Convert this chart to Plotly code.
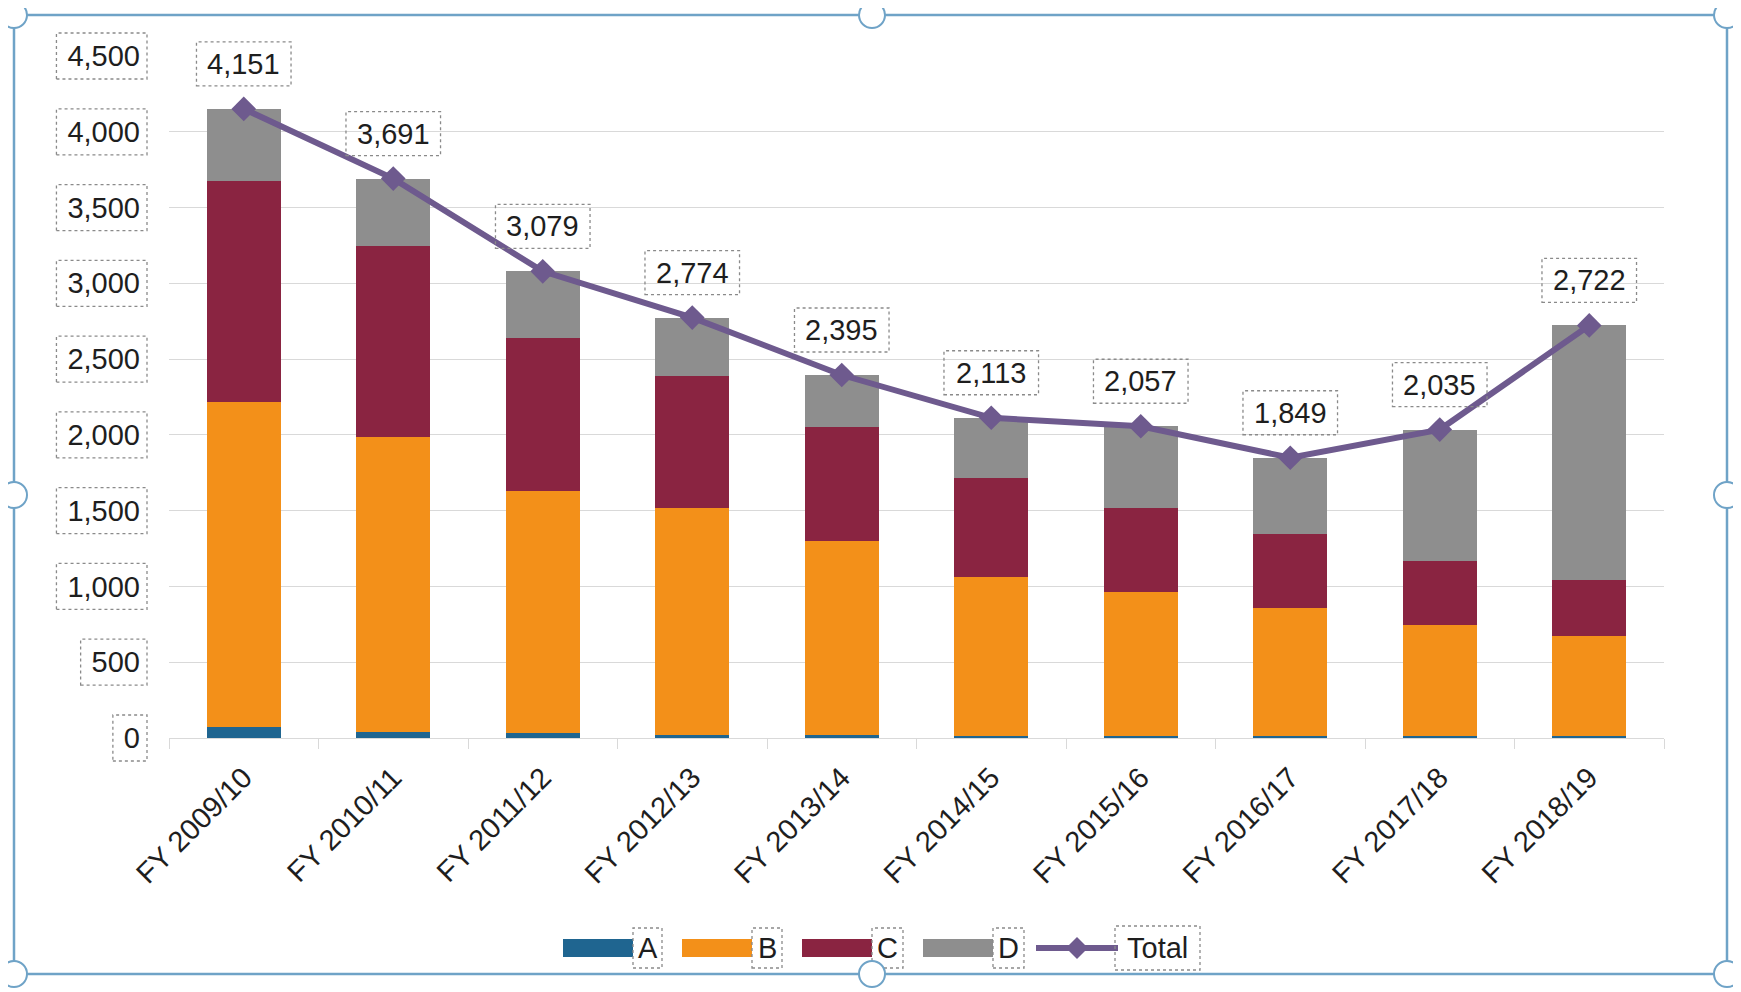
import plotly.graph_objects as go

# ---------------- data ----------------
categories = ["FY 2009/10", "FY 2010/11", "FY 2011/12", "FY 2012/13", "FY 2013/14",
              "FY 2014/15", "FY 2015/16", "FY 2016/17", "FY 2017/18", "FY 2018/19"]
series_a = [70, 40, 35, 20, 18, 15, 15, 12, 12, 10]
series_b = [2150, 1943, 1592, 1496, 1283, 1047, 946, 845, 731, 660]
series_c = [1454, 1265, 1015, 873, 754, 652, 555, 490, 422, 374]
series_d = [477, 443, 437, 385, 340, 399, 541, 502, 870, 1678]
totals = [4151, 3691, 3079, 2774, 2395, 2113, 2057, 1849, 2035, 2722]
y_ticks = [0, 500, 1000, 1500, 2000, 2500, 3000, 3500, 4000, 4500]
legend_names = ["A", "B", "C", "D", "Total"]

# ---------------- styles ----------------
COL_A, COL_B, COL_C, COL_D = "#1F6590", "#F39019", "#8A2441", "#8E8E8E"
COL_TOTAL = "#6E5A8E"
GRID = "#D9D9D9"
TXT = "#1E1E1E"
FRAME = "#6FA3C7"
FONT = "Liberation Sans, Arial, sans-serif"
FS = 29

OFF = 8  # page body margin
W, H = 1741 - OFF, 992 - OFF
# targets in page pixels
L, R, T, B = 169, 1664, 56, 738
YMAX = 4500
N = len(categories)


def fx(px):
    return (px - L) / (R - L)


def fy(py):
    return (B - py) / (B - T)


def val_py(v):
    return B - v / YMAX * (B - T)


def cat_px(i):
    return L + (i + 0.5) * (R - L) / N


CW = {**{d: 0.556 for d in "0123456789"}, ",": 0.278, "T": 0.611, "o": 0.556,
      "t": 0.278, "a": 0.556, "l": 0.222, "A": 0.667, "B": 0.667, "C": 0.722, "D": 0.722}


def text_w(s, fs=FS):
    return sum(CW.get(ch, 0.556) for ch in s) * fs


def box(x0, y0, x1, y1, color="#8A8A8A"):
    return dict(type="rect", xref="paper", yref="paper",
                x0=fx(x0), x1=fx(x1), y0=fy(y1), y1=fy(y0),
                line=dict(color=color, width=1.3, dash="dot"), fillcolor="rgba(0,0,0,0)")


fig = go.Figure()
for name, vals, col in [("A", series_a, COL_A), ("B", series_b, COL_B),
                        ("C", series_c, COL_C), ("D", series_d, COL_D)]:
    fig.add_trace(go.Bar(x=categories, y=vals, name=name, marker=dict(color=col, line=dict(width=0)),
                         showlegend=False))

fig.add_trace(go.Scatter(x=categories, y=totals, name="Total", mode="lines+markers",
                         line=dict(color=COL_TOTAL, width=6),
                         marker=dict(symbol="diamond", size=19, color=COL_TOTAL),
                         cliponaxis=False, showlegend=False))

shapes = []
annotations = []

# data labels with dotted boxes
for i, v in enumerate(totals):
    s = f"{v:,}"
    annotations.append(dict(x=categories[i], y=v, xref="x", yref="y", text=s, showarrow=False,
                            yshift=45, font=dict(family=FONT, size=FS, color=TXT)))
    cx, cy = cat_px(i), val_py(v) - 45
    w = text_w(s) + 22
    shapes.append(box(cx - w / 2, cy - 22, cx + w / 2, cy + 22))

# y tick label dotted boxes
for t in y_ticks:
    s = f"{t:,}"
    w = text_w(s) + 18
    cy = val_py(t)
    shapes.append(box(147 - w, cy - 23, 147, cy + 23))

# custom legend
LY = 948
swatches = [(563, 633, COL_A, "A", 633, 662), (682, 752, COL_B, "B", 752, 782),
            (802, 872, COL_C, "C", 872, 903), (923, 993, COL_D, "D", 993, 1024)]
for (x0, x1, col, nm, bx0, bx1) in swatches:
    shapes.append(dict(type="rect", xref="paper", yref="paper", x0=fx(x0), x1=fx(x1),
                       y0=fy(LY + 9), y1=fy(LY - 9), fillcolor=col, line=dict(width=0)))
    shapes.append(box(bx0, LY - 20, bx1, LY + 20))
    annotations.append(dict(x=fx((bx0 + bx1) / 2), y=fy(LY), xref="paper", yref="paper",
                            text=nm, showarrow=False, xanchor="center", yanchor="middle",
                            font=dict(family=FONT, size=FS, color=TXT)))
# Total legend entry
shapes.append(dict(type="line", xref="paper", yref="paper", x0=fx(1036), x1=fx(1118),
                   y0=fy(LY), y1=fy(LY), line=dict(color=COL_TOTAL, width=6)))
mx, d = 1077, 11
shapes.append(dict(type="path", xref="paper", yref="paper",
                   path=f"M {fx(mx - d)} {fy(LY)} L {fx(mx)} {fy(LY - d)} L {fx(mx + d)} {fy(LY)} L {fx(mx)} {fy(LY + d)} Z",
                   fillcolor=COL_TOTAL, line=dict(width=0)))
shapes.append(box(1115, LY - 22, 1200, LY + 22))
annotations.append(dict(x=fx(1157), y=fy(LY), xref="paper", yref="paper", text=legend_names[4],
                        showarrow=False, xanchor="center", yanchor="middle",
                        font=dict(family=FONT, size=FS, color=TXT)))

# selection frame + handles
FL, FT, FR, FB = 14, 15, 1727, 974
shapes.append(dict(type="rect", xref="paper", yref="paper", x0=fx(FL), x1=fx(FR),
                   y0=fy(FB), y1=fy(FT), line=dict(color=FRAME, width=2.5),
                   fillcolor="rgba(0,0,0,0)"))
rr = 13
for (hx, hy) in [(FL, FT), (872, FT), (FR, FT), (FL, 495), (FR, 495),
                 (FL, FB), (872, FB), (FR, FB)]:
    shapes.append(dict(type="circle", xref="paper", yref="paper",
                       x0=fx(hx - rr), x1=fx(hx + rr), y0=fy(hy + rr), y1=fy(hy - rr),
                       fillcolor="white", line=dict(color=FRAME, width=2)))

fig.update_layout(
    width=W, height=H,
    margin=dict(l=L - OFF, r=1741 - R, t=T - OFF, b=992 - B, pad=0, autoexpand=False),
    barmode="stack", bargap=0.505,
    paper_bgcolor="white", plot_bgcolor="white",
    font=dict(family=FONT, size=FS, color=TXT),
    shapes=shapes, annotations=annotations,
    xaxis=dict(type="category", range=[-0.5, N - 0.5], tickangle=-45, tickson="boundaries",
               ticks="outside", ticklen=10, tickcolor=GRID, showline=True, linecolor=GRID,
               linewidth=1, showgrid=False, ticklabelstandoff=10, automargin=False,
               tickfont=dict(family=FONT, size=FS, color=TXT)),
    yaxis=dict(range=[0, YMAX], tickvals=y_ticks, tickformat=",", showgrid=True,
               gridcolor=GRID, gridwidth=1, zeroline=False, showline=False,
               ticks="", ticklabelstandoff=28, automargin=False,
               tickfont=dict(family=FONT, size=FS, color=TXT)),
)

fig.write_html("out.html")
